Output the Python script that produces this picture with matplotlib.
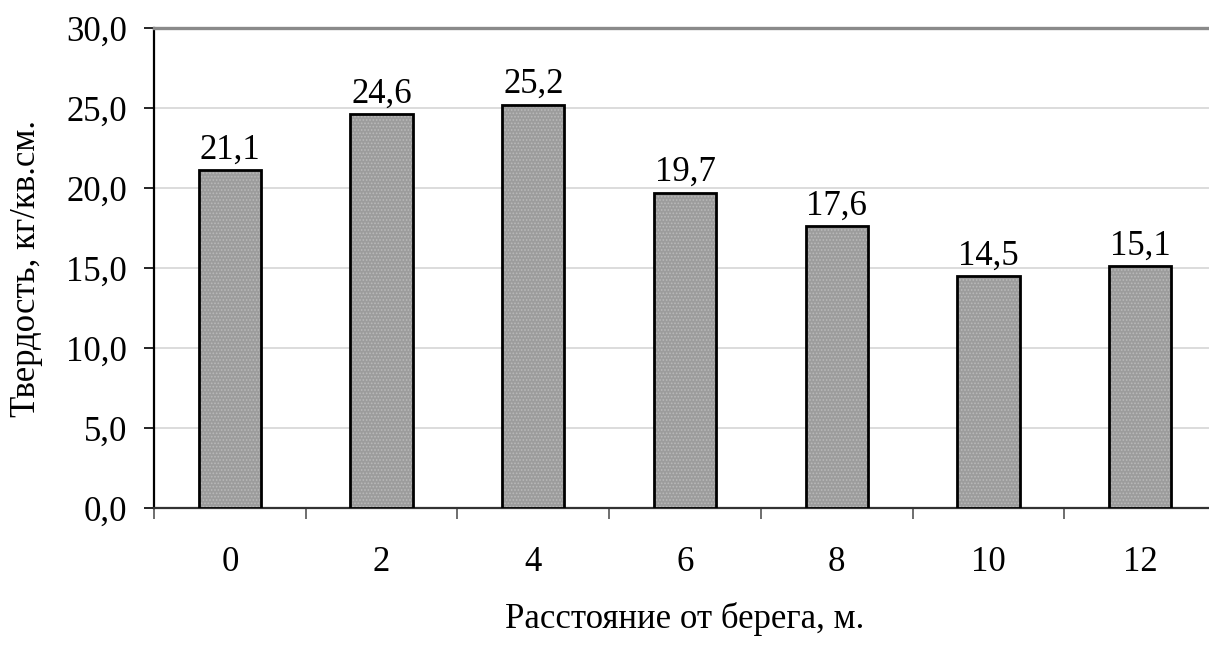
import matplotlib
matplotlib.use("Agg")
import matplotlib.pyplot as plt
from matplotlib.ticker import FixedLocator, FuncFormatter

plt.rcParams['font.family'] = ['Liberation Serif', 'DejaVu Serif']
plt.rcParams['hatch.linewidth'] = 0.8

distances = ["0", "2", "4", "6", "8", "10", "12"]
hardness = [21.1, 24.6, 25.2, 19.7, 17.6, 14.5, 15.1]
y_ticks = [0, 5, 10, 15, 20, 25, 30]

FS = 25

fig = plt.figure(figsize=(12.09, 6.48), dpi=100)
ax = fig.add_axes([0.1274, 0.2160, 0.8784, 0.7407])

pos = list(range(len(distances)))

# textured gray fill
ax.bar(pos, hardness, width=0.41, color='#9c9c9c', edgecolor='#b9b9b9',
       hatch='.....', linewidth=0, zorder=3)
# black outline
ax.bar(pos, hardness, width=0.41, fill=False, edgecolor='black',
       linewidth=2.0, zorder=4)

def fmt(v):
    return f"{v:.1f}".replace('.', ',')

for x, v in zip(pos, hardness):
    ax.annotate(fmt(v), (x, v), xytext=(0, 8.5), textcoords='offset points',
                ha='center', va='baseline', fontsize=FS, zorder=5)

ax.set_xlim(-0.5, len(distances) - 0.5)
ax.set_ylim(0, 30)

ax.set_yticks(y_ticks)
ax.yaxis.set_major_formatter(FuncFormatter(lambda v, p: fmt(v)))
ax.grid(axis='y', color='#d6d6d6', linewidth=1.2, zorder=0)
ax.set_axisbelow(True)

ax.set_xticks(pos)
ax.set_xticklabels(distances)
ax.xaxis.set_minor_locator(FixedLocator([i - 0.5 for i in range(len(distances) + 1)]))
ax.tick_params(axis='x', which='major', length=0, pad=27, labelsize=FS)
ax.tick_params(axis='x', which='minor', length=8, width=1.2, color='#555555', direction='out')
ax.tick_params(axis='y', which='major', length=7.5, width=1.2, direction='out',
               labelsize=FS, pad=12)

ax.spines['right'].set_visible(False)
ax.spines['top'].set_color('#8a8a8a')
ax.spines['top'].set_linewidth(2.4)
ax.spines['left'].set_color('black')
ax.spines['left'].set_linewidth(1.6)
ax.spines['bottom'].set_color('#333333')
ax.spines['bottom'].set_linewidth(1.6)

ax.set_xlabel("Расстояние от берега, м.", fontsize=FS, labelpad=17)
fig.text(27 / 1209, 1 - 268 / 648, "Твердость, кг/кв.см.", rotation=90,
         ha='center', va='center', fontsize=FS)

fig.savefig("out.png", dpi=100)
